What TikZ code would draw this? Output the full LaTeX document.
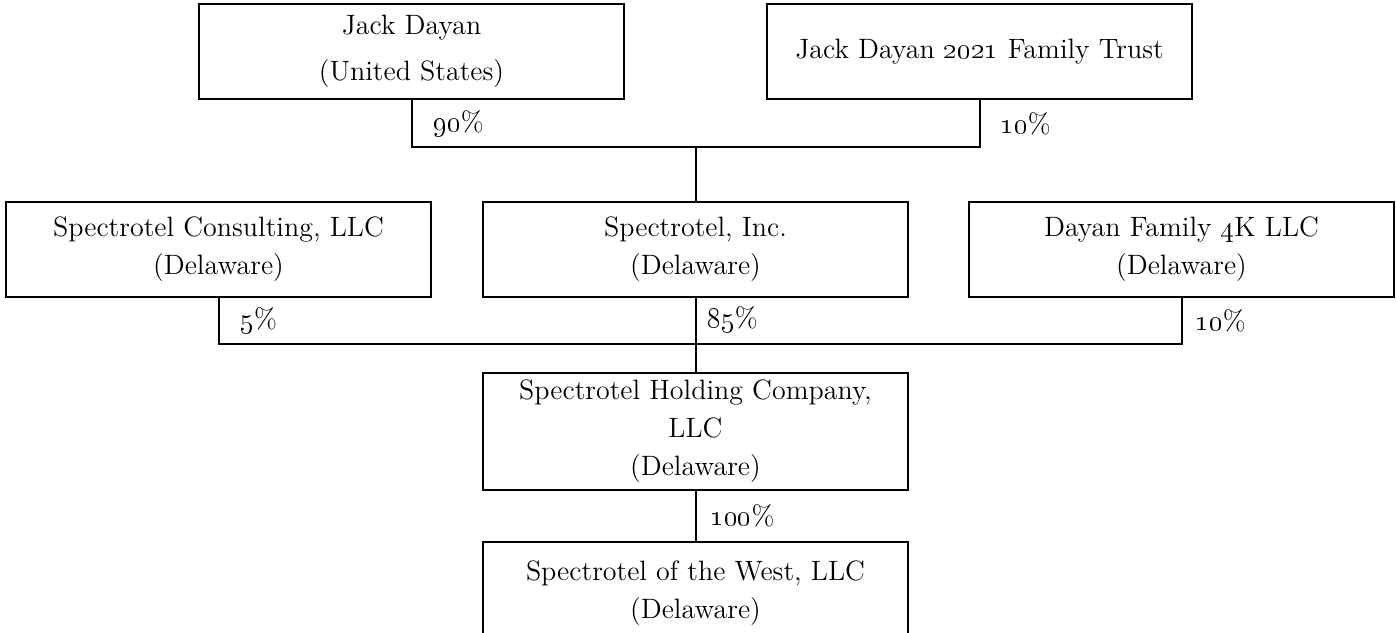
\documentclass[tikz,border=0pt]{standalone}
\usetikzlibrary{positioning}

\begin{document}
\begin{tikzpicture}[x=0.5pt, y=-0.5pt, line width=1pt]

% definitions
\tikzstyle{entity} = [rectangle, minimum width=212.5pt, minimum height=47.5pt, inner sep=0pt, align=center, draw=black, font=\fontsize{14}{19}\selectfont]

\tikzstyle{entitytall} = [entity, minimum height=58.5pt]

\tikzstyle{entityopen} = [entity, minimum height=51pt]

\tikzstyle{link} = [-, draw=black]

\tikzstyle{pct} = [anchor=west, inner sep=0pt, font=\fontsize{14}{17}\selectfont]

\useasboundingbox (0,0) rectangle (1396,632);

% the graph
\node (e0) [entity] at (411.5,51.5) {Jack Dayan\\[4pt](United States)};

\node (e1) [entity] at (979.5,51.5) {Jack Dayan \oldstylenums{2021} Family Trust};

\node (e3) [entity] at (695.5,249.5) {Spectrotel, Inc.\\(Delaware)};

\node (e2) [entity, left=25pt of e3] {Spectrotel Consulting, LLC\\(Delaware)};

\node (e4) [entity, right=29.5pt of e3] {Dayan Family \oldstylenums{4}K LLC\\(Delaware)};

\node (e5) [entitytall, below=37pt of e3] {Spectrotel Holding Company,\\LLC\\(Delaware)};

\node (e6) [entityopen, below=25pt of e5] {Spectrotel of the West, LLC\\(Delaware)};

\coordinate (b0) at (695.5,147);
\coordinate (b1) at (695.5,344);

\draw [link] (e0.south) |- node [pct, pos=0.25, xshift=10.5pt] {\oldstylenums{90}\%} (b0) -| node [pct, pos=0.75, xshift=10pt] {\oldstylenums{10}\%} (e1.south);
\draw [link] (b0) -- (e3.north);

\draw [link] (e2.south) |- node [pct, pos=0.25, xshift=10.5pt] {\oldstylenums{5}\%} (b1) -| node [pct, pos=0.75, xshift=6.5pt] {\oldstylenums{10}\%} (e4.south);
\draw [link] (e3.south) -- node [pct, pos=0.3, xshift=5.5pt] {\oldstylenums{85}\%} (e5.north);

\draw [link] (e5.south) -- node [pct, midway, xshift=7pt] {\oldstylenums{100}\%} (e6.north);

\end{tikzpicture}
\end{document}
